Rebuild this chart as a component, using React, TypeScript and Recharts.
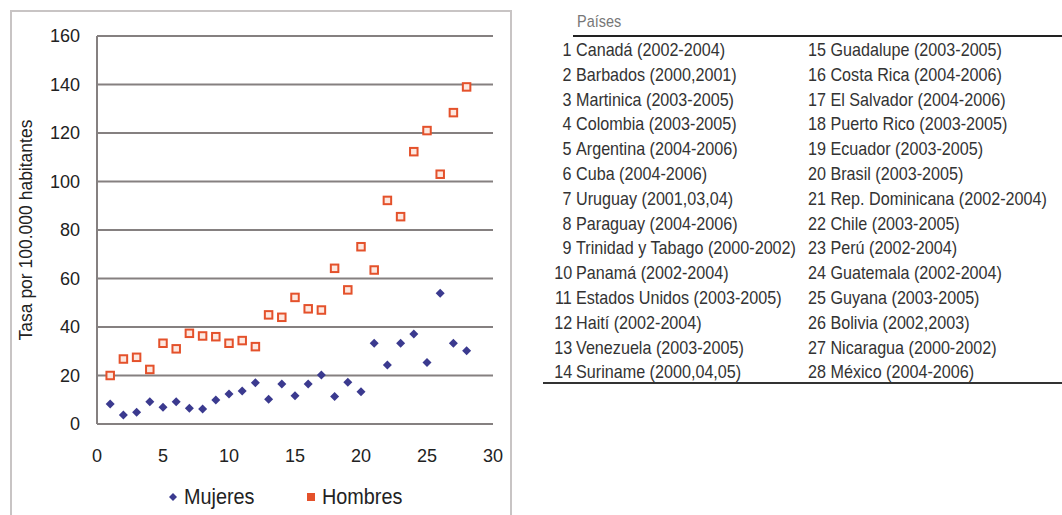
import React from 'react';
import { ScatterChart, Scatter, XAxis, YAxis, CartesianGrid, Legend } from 'recharts';

const countryNumbers = [1, 2, 3, 4, 5, 6, 7, 8, 9, 10, 11, 12, 13, 14, 15, 16, 17, 18, 19, 20, 21, 22, 23, 24, 25, 26, 27, 28];
const mujeres = [8.2, 3.7, 4.8, 9.2, 6.9, 9.2, 6.5, 6.2, 9.9, 12.4, 13.6, 17, 10.2, 16.5, 11.7, 16.5, 20.2, 11.3, 17.2, 13.3, 33.3, 24.3, 33.3, 37.1, 25.4, 53.9, 33.3, 30.2];
const hombres = [20, 26.8, 27.5, 22.5, 33.3, 31, 37.4, 36.3, 36, 33.3, 34.4, 31.9, 45, 44, 52.2, 47.5, 47, 64.2, 55.3, 73.1, 63.5, 92.2, 85.5, 112.3, 121, 103, 128.4, 139];
const xTicks = [0, 5, 10, 15, 20, 25, 30];
const yTicks = [0, 20, 40, 60, 80, 100, 120, 140, 160];
const paises = [
  'Canadá (2002-2004)',
  'Barbados (2000,2001)',
  'Martinica (2003-2005)',
  'Colombia (2003-2005)',
  'Argentina (2004-2006)',
  'Cuba (2004-2006)',
  'Uruguay (2001,03,04)',
  'Paraguay (2004-2006)',
  'Trinidad y Tabago (2000-2002)',
  'Panamá (2002-2004)',
  'Estados Unidos (2003-2005)',
  'Haití (2002-2004)',
  'Venezuela (2003-2005)',
  'Suriname (2000,04,05)',
  'Guadalupe (2003-2005)',
  'Costa Rica (2004-2006)',
  'El Salvador (2004-2006)',
  'Puerto Rico (2003-2005)',
  'Ecuador (2003-2005)',
  'Brasil (2003-2005)',
  'Rep. Dominicana (2002-2004)',
  'Chile (2003-2005)',
  'Perú (2002-2004)',
  'Guatemala (2002-2004)',
  'Guyana (2003-2005)',
  'Bolivia (2002,2003)',
  'Nicaragua (2000-2002)',
  'México (2004-2006)',
];

const mujeresData = countryNumbers.map((n, i) => ({ x: n, y: mujeres[i] }));
const hombresData = countryNumbers.map((n, i) => ({ x: n, y: hombres[i] }));

const FONT = "'Liberation Sans', Arial, sans-serif";
const BLUE = '#3b3a8f';
const ORANGE = '#e4512b';
const GRID = '#858080';
const NARROW = 'scaleX(0.85)';

const Diamond = (props: any) => {
  const { cx, cy } = props;
  const r = 4.5;
  return <path d={`M${cx},${cy - r}L${cx + r},${cy}L${cx},${cy + r}L${cx - r},${cy}Z`} fill={BLUE} />;
};

const Square = (props: any) => {
  const { cx, cy } = props;
  const s = 7.5;
  return <rect x={cx - s / 2} y={cy - s / 2} width={s} height={s} fill="#fde8e0" stroke={ORANGE} strokeWidth={2} />;
};

const LegendContent = () => (
  <div style={{ display: 'flex', alignItems: 'center', height: 30, paddingLeft: 167, fontFamily: FONT, fontSize: 22, color: '#222' }}>
    <svg width={12} height={12}><path d="M6,2L10,6L6,10L2,6Z" fill={BLUE} /></svg>
    <span style={{ marginLeft: 5, width: 121, display: 'inline-block' }}>
      <span style={{ display: 'inline-block', transform: 'scaleX(0.9)', transformOrigin: 'left' }}>Mujeres</span>
    </span>
    <svg width={12} height={12}><rect x={2} y={2} width={8} height={8} fill={ORANGE} /></svg>
    <span style={{ marginLeft: 5, display: 'inline-block', transform: 'scaleX(0.9)', transformOrigin: 'left' }}>Hombres</span>
  </div>
);

const col1 = paises.slice(0, 14);
const col2 = paises.slice(14);
const ROW = 24.8;

export default function App() {
  return (
    <div style={{ position: 'absolute', left: 0, top: 0, width: 1062, height: 515, background: '#fff', overflow: 'hidden' }}>
      <div style={{ position: 'absolute', left: 10, top: 10, width: 502, height: 520, border: '2px solid #c8c4c4', boxSizing: 'border-box' }} />
      <div style={{ position: 'absolute', left: 0, top: 0 }}>
        <ScatterChart width={520} height={515} margin={{ top: 36, right: 27, left: 20, bottom: 3 }}>
          <CartesianGrid horizontal vertical={false} stroke={GRID} strokeWidth={2} />
          <XAxis
            type="number"
            dataKey="x"
            domain={[0, 30]}
            ticks={xTicks}
            height={58}
            tickLine={false}
            axisLine={{ stroke: GRID, strokeWidth: 2 }}
            tickMargin={19}
            tick={{ fontFamily: FONT, fontSize: 18, fill: '#222' }}
          />
          <YAxis
            type="number"
            dataKey="y"
            domain={[0, 160]}
            ticks={yTicks}
            width={77}
            tickLine={false}
            axisLine={{ stroke: GRID, strokeWidth: 2 }}
            tickMargin={11}
            tick={{ fontFamily: FONT, fontSize: 18, fill: '#222' }}
            label={{ value: 'Tasa por 100.000 habitantes', angle: -90, position: 'insideLeft', offset: 6, style: { textAnchor: 'middle', fontFamily: FONT, fontSize: 17.5, fill: '#222' } }}
          />
          <Legend verticalAlign="bottom" align="left" wrapperStyle={{ left: 0, width: 520 }} content={<LegendContent />} />
          <Scatter name="Mujeres" data={mujeresData} fill={BLUE} shape={<Diamond />} isAnimationActive={false} />
          <Scatter name="Hombres" data={hombresData} fill={ORANGE} shape={<Square />} isAnimationActive={false} />
        </ScatterChart>
      </div>
      <div style={{ position: 'absolute', left: 577, top: 11, fontFamily: FONT, fontSize: 17, color: '#777', lineHeight: '22px', transform: NARROW, transformOrigin: 'left' }}>Países</div>
      <div style={{ position: 'absolute', left: 573, top: 35, width: 489, height: 2, background: '#222' }} />
      <div style={{ position: 'absolute', left: 543, top: 382, width: 519, height: 2, background: '#333' }} />
      <div style={{ position: 'absolute', left: 0, top: 38, width: 800, fontFamily: FONT, fontSize: 19, color: '#333', lineHeight: `${ROW}px`, whiteSpace: 'nowrap' }}>
        {col1.map((p, i) => (
          <div key={p} style={{ position: 'relative', height: ROW }}>
            <div style={{ position: 'absolute', left: 522, width: 50, textAlign: 'right' }}>
              <span style={{ display: 'inline-block', transform: NARROW, transformOrigin: 'right' }}>{countryNumbers[i]}</span>
            </div>
            <div style={{ position: 'absolute', left: 576 }}>
              <span style={{ display: 'inline-block', transform: NARROW, transformOrigin: 'left' }}>{p}</span>
            </div>
          </div>
        ))}
      </div>
      <div style={{ position: 'absolute', left: 808, top: 38, fontFamily: FONT, fontSize: 19, color: '#333', lineHeight: `${ROW}px`, whiteSpace: 'nowrap' }}>
        {col2.map((p, i) => (
          <div key={p} style={{ height: ROW }}>
            <span style={{ display: 'inline-block', transform: NARROW, transformOrigin: 'left' }}>{countryNumbers[i + 14]} {p}</span>
          </div>
        ))}
      </div>
    </div>
  );
}
